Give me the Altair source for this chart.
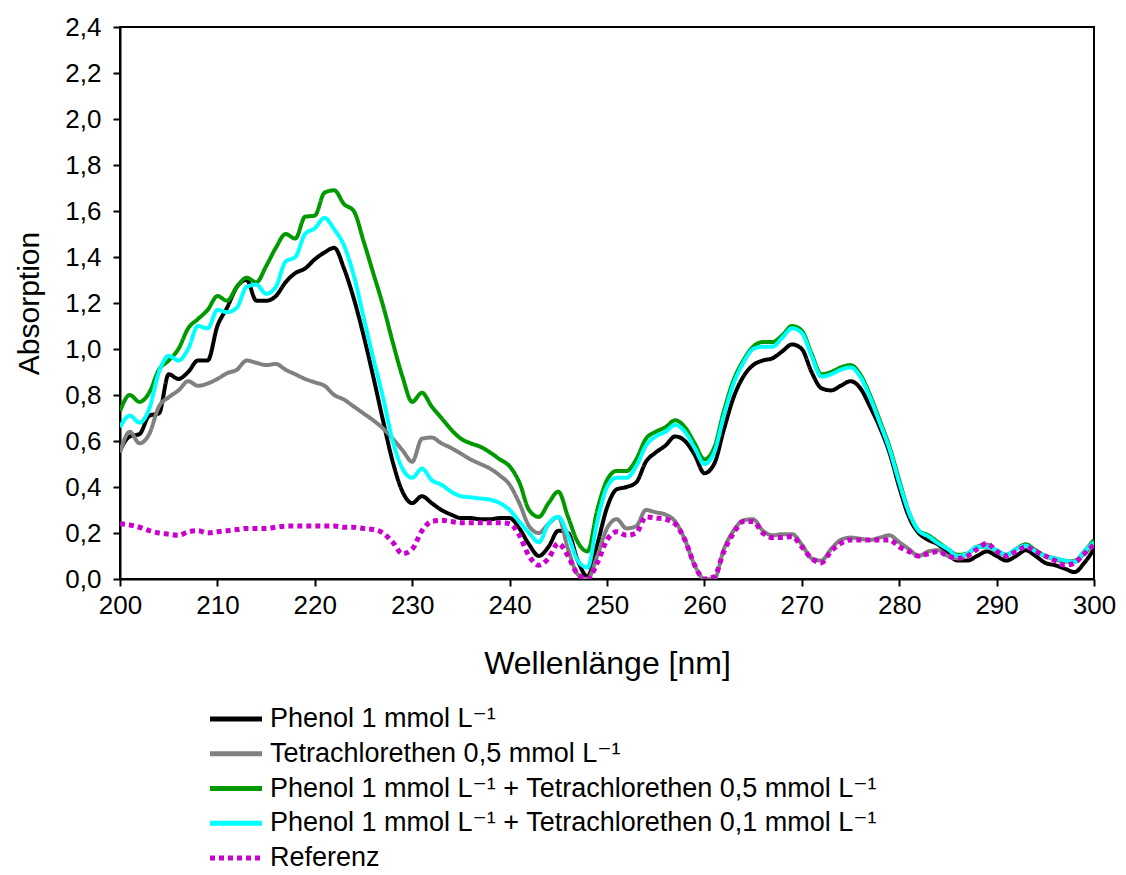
import altair as alt
import pandas as pd

wavelength = list(range(200, 301))

phenol = [0.56, 0.62, 0.63, 0.71, 0.72, 0.89, 0.87, 0.90, 0.95, 0.95,
          1.10, 1.18, 1.27, 1.30, 1.21, 1.21, 1.23, 1.29, 1.33, 1.35,
          1.39, 1.42, 1.44, 1.35, 1.22, 1.06, 0.88, 0.69, 0.51, 0.38,
          0.33, 0.36, 0.33, 0.30, 0.28, 0.265, 0.265, 0.26, 0.26, 0.265,
          0.265, 0.22, 0.15, 0.10, 0.14, 0.21, 0.20, 0.08, 0.01, 0.15,
          0.31, 0.39, 0.40, 0.42, 0.51, 0.55, 0.58, 0.62, 0.60, 0.54,
          0.46, 0.50, 0.65, 0.79, 0.88, 0.93, 0.95, 0.96, 0.99, 1.02,
          1.00, 0.90, 0.83, 0.82, 0.84, 0.86, 0.83, 0.75, 0.66, 0.55,
          0.40, 0.27, 0.20, 0.17, 0.15, 0.11, 0.08, 0.08, 0.10, 0.12,
          0.10, 0.08, 0.10, 0.125, 0.10, 0.07, 0.06, 0.045, 0.03, 0.07,
          0.13]

tce = [0.55, 0.64, 0.59, 0.63, 0.75, 0.79, 0.82, 0.86, 0.84, 0.85,
       0.87, 0.895, 0.91, 0.95, 0.94, 0.93, 0.935, 0.91, 0.89, 0.87,
       0.855, 0.84, 0.80, 0.78, 0.75, 0.72, 0.69, 0.655, 0.61, 0.56,
       0.51, 0.61, 0.615, 0.59, 0.57, 0.545, 0.52, 0.50, 0.48, 0.45,
       0.41, 0.33, 0.23, 0.20, 0.24, 0.27, 0.13, 0.02, 0.00, 0.10,
       0.22, 0.26, 0.22, 0.23, 0.30, 0.29, 0.28, 0.25, 0.17, 0.06,
       0.00, 0.00, 0.13, 0.21, 0.255, 0.26, 0.21, 0.19, 0.195, 0.195,
       0.15, 0.09, 0.08, 0.13, 0.17, 0.18, 0.175, 0.17, 0.18, 0.19,
       0.16, 0.13, 0.10, 0.12, 0.125, 0.10, 0.09, 0.11, 0.14, 0.15,
       0.12, 0.105, 0.13, 0.15, 0.12, 0.10, 0.085, 0.075, 0.08, 0.11,
       0.15]

mix_05 = [0.73, 0.80, 0.77, 0.81, 0.91, 0.95, 1.00, 1.09, 1.13, 1.17,
          1.23, 1.21, 1.27, 1.31, 1.29, 1.36, 1.44, 1.50, 1.48, 1.575,
          1.58, 1.68, 1.69, 1.63, 1.60, 1.47, 1.33, 1.19, 1.03, 0.88,
          0.77, 0.81, 0.75, 0.70, 0.65, 0.61, 0.59, 0.575, 0.55, 0.52,
          0.49, 0.42, 0.30, 0.27, 0.33, 0.38, 0.27, 0.16, 0.12, 0.30,
          0.43, 0.47, 0.47, 0.52, 0.61, 0.64, 0.66, 0.69, 0.66, 0.59,
          0.52, 0.57, 0.73, 0.865, 0.95, 1.01, 1.03, 1.03, 1.06, 1.10,
          1.08, 0.98, 0.89, 0.90, 0.92, 0.93, 0.89, 0.80, 0.69, 0.575,
          0.43, 0.29, 0.21, 0.19, 0.16, 0.13, 0.105, 0.11, 0.14, 0.14,
          0.125, 0.105, 0.13, 0.15, 0.125, 0.10, 0.09, 0.08, 0.075, 0.12,
          0.17]

mix_01 = [0.66, 0.71, 0.68, 0.74, 0.90, 0.97, 0.95, 1.00, 1.10, 1.09,
          1.17, 1.16, 1.18, 1.27, 1.28, 1.24, 1.27, 1.38, 1.40, 1.50,
          1.525, 1.57, 1.52, 1.45, 1.32, 1.14, 0.96, 0.79, 0.60, 0.48,
          0.44, 0.48, 0.43, 0.41, 0.38, 0.36, 0.355, 0.35, 0.345, 0.33,
          0.30, 0.25, 0.20, 0.16, 0.24, 0.27, 0.19, 0.08, 0.05, 0.25,
          0.40, 0.44, 0.44, 0.49, 0.58, 0.62, 0.64, 0.67, 0.64, 0.57,
          0.50, 0.55, 0.71, 0.85, 0.94, 1.00, 1.01, 1.01, 1.05, 1.09,
          1.07, 0.97, 0.88, 0.89, 0.91, 0.92, 0.88, 0.79, 0.68, 0.565,
          0.42, 0.29, 0.21, 0.185, 0.155, 0.13, 0.10, 0.11, 0.14, 0.14,
          0.125, 0.105, 0.13, 0.145, 0.12, 0.10, 0.09, 0.08, 0.075, 0.12,
          0.16]

referenz = [0.24, 0.235, 0.225, 0.21, 0.20, 0.195, 0.19, 0.205, 0.21, 0.20,
            0.205, 0.21, 0.215, 0.22, 0.22, 0.22, 0.225, 0.23, 0.23, 0.23,
            0.23, 0.23, 0.23, 0.225, 0.225, 0.22, 0.215, 0.20, 0.16, 0.11,
            0.13, 0.21, 0.25, 0.255, 0.25, 0.245, 0.245, 0.245, 0.245, 0.245,
            0.24, 0.19, 0.10, 0.06, 0.09, 0.155, 0.10, 0.02, 0.00, 0.07,
            0.17, 0.205, 0.19, 0.20, 0.27, 0.265, 0.26, 0.24, 0.17, 0.06,
            0.00, 0.01, 0.12, 0.20, 0.25, 0.25, 0.20, 0.18, 0.18, 0.185,
            0.14, 0.09, 0.07, 0.12, 0.155, 0.17, 0.17, 0.17, 0.17, 0.17,
            0.14, 0.12, 0.10, 0.11, 0.12, 0.10, 0.09, 0.10, 0.13, 0.155,
            0.12, 0.10, 0.12, 0.14, 0.12, 0.10, 0.08, 0.06, 0.07, 0.11,
            0.15]

series_names = [
    "Phenol 1 mmol L\u207b\u00b9",
    "Tetrachlorethen 0,5 mmol L\u207b\u00b9",
    "Phenol 1 mmol L\u207b\u00b9 + Tetrachlorethen 0,5 mmol L\u207b\u00b9",
    "Phenol 1 mmol L\u207b\u00b9 + Tetrachlorethen 0,1 mmol L\u207b\u00b9",
    "Referenz",
]
series_values = [phenol, tce, mix_05, mix_01, referenz]
series_colors = ["#000000", "#808080", "#009900", "#00FFFF", "#CC00CC"]
series_dash = [[1, 0], [1, 0], [1, 0], [1, 0], [5, 4]]

rows = []
for name, vals in zip(series_names, series_values):
    for w, v in zip(wavelength, vals):
        rows.append({"Wellenlänge": w, "Absorption": v, "Serie": name})
df = pd.DataFrame(rows)
legend_df = pd.DataFrame({"Serie": series_names})

FONT = "Liberation Sans, Arial, DejaVu Sans"
x_ticks = list(range(200, 301, 10))
y_ticks = [round(i * 0.2, 1) for i in range(13)]

color_enc = alt.Color(
    "Serie:N",
    scale=alt.Scale(domain=series_names, range=series_colors),
    legend=None,
)
dash_enc = alt.StrokeDash(
    "Serie:N",
    scale=alt.Scale(domain=series_names, range=series_dash),
    legend=None,
)

x_enc = alt.X(
    "Wellenlänge:Q",
    scale=alt.Scale(domain=[200, 300], nice=False),
    axis=alt.Axis(
        title="Wellenlänge [nm]", values=x_ticks, grid=False,
        labelFontSize=26, titleFontSize=32, labelFont=FONT, titleFont=FONT,
        titleFontWeight="normal", labelColor="#000", titleColor="#000",
        domainColor="#000", domainWidth=2, tickColor="#000", tickWidth=2,
        tickSize=7, labelPadding=6, titlePadding=30, labelFlush=False,
    ),
)
y_enc = alt.Y(
    "Absorption:Q",
    scale=alt.Scale(domain=[0, 2.4], nice=False),
    axis=alt.Axis(
        title="Absorption", values=y_ticks, grid=False,
        labelExpr="replace(format(datum.value, '.1f'), '.', ',')",
        labelFontSize=26, titleFontSize=30, labelFont=FONT, titleFont=FONT,
        titleFontWeight="normal", labelColor="#000", titleColor="#000",
        domainColor="#000", domainWidth=2, tickColor="#000", tickWidth=2,
        tickSize=7, labelPadding=12, titlePadding=20, labelFlush=False,
    ),
)

lines = []
for name in series_names:
    w = 5 if name == "Referenz" else 4
    lines.append(
        alt.Chart(df)
        .transform_filter(alt.datum.Serie == name)
        .mark_line(strokeWidth=w, interpolate="monotone", clip=True)
        .encode(x=x_enc, y=y_enc, color=color_enc, strokeDash=dash_enc)
    )
main = alt.layer(*lines)

# Legend below the plot (own point scale for the rows)
legend_y = alt.Y(
    "Serie:N",
    scale=alt.Scale(type="point", domain=series_names, range=[692, 831], padding=0),
    axis=None,
)
legend_symbols = (
    alt.Chart(legend_df)
    .mark_rule(strokeWidth=5)
    .encode(x=alt.value(90), x2=alt.value(142), y=legend_y,
            color=color_enc, strokeDash=dash_enc)
)
legend_labels = (
    alt.Chart(legend_df)
    .mark_text(align="left", baseline="middle", fontSize=27, font=FONT, color="#000000")
    .encode(x=alt.value(150), y=legend_y, text="Serie:N")
)
legend = alt.layer(legend_symbols, legend_labels)

chart = (
    alt.layer(main, legend)
    .resolve_scale(y="independent")
    .properties(
        width=974,
        height=552,
        padding={"left": 120, "top": 27, "right": 32, "bottom": 296},
        autosize=alt.AutoSizeParams(type="none"),
        view=alt.ViewBackground(stroke="#000000", strokeWidth=2),
    )
    .configure_view(stroke="#000000", strokeWidth=2)
    .configure(background="#ffffff")
)

chart.save("out.html", embed_options={"renderer": "svg", "actions": False})
